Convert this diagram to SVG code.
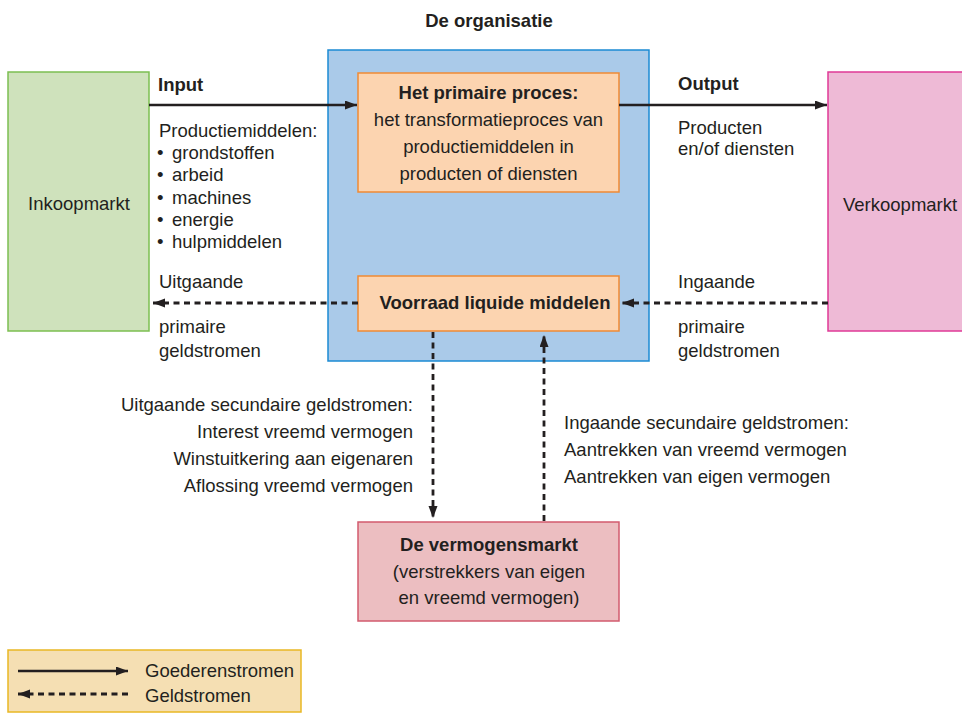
<svg xmlns="http://www.w3.org/2000/svg" width="962" height="714" viewBox="0 0 962 714">
<defs>
<marker id="ah" markerWidth="13" markerHeight="10" refX="12" refY="4.5" orient="auto" markerUnits="userSpaceOnUse"><path d="M0,0 L12,4.5 L0,9 z" fill="#231f20"/></marker>
</defs>
<style>
text{font-family:"Liberation Sans",Arial,sans-serif;font-size:18.5px;fill:#231f20}
.b{font-weight:bold}
.m{text-anchor:middle}
.e{text-anchor:end}
.solid{stroke:#231f20;stroke-width:2.6;fill:none}
.dash{stroke:#231f20;stroke-width:2.8;fill:none;stroke-dasharray:6 4.5}
</style>
<rect width="962" height="714" fill="#fff"/>
<text class="b m" x="489" y="27">De organisatie</text>
<g id="organisatie"><rect x="328" y="50" width="321" height="311" fill="#aacae9" stroke="#1b8ad3" stroke-width="1.5"/></g>
<g id="inkoopmarkt"><rect x="8" y="72" width="141" height="259" fill="#cfe2bc" stroke="#7cbf51" stroke-width="1.5"/><text class="m" x="79" y="210">Inkoopmarkt</text></g>
<g id="verkoopmarkt"><rect x="828" y="72" width="140" height="259" fill="#eebad6" stroke="#df3a97" stroke-width="1.5"/><text x="843" y="211">Verkoopmarkt</text></g>
<g id="primair"><rect x="358" y="73" width="261" height="119" fill="#fcd4b0" stroke="#f08a34" stroke-width="1.5"/>
<text class="b m" x="488.5" y="99">Het primaire proces:</text>
<text class="m" x="488.5" y="126">het transformatieproces van</text>
<text class="m" x="488.5" y="153">productiemiddelen in</text>
<text class="m" x="488.5" y="180">producten of diensten</text></g>
<g id="voorraad"><rect x="358" y="276" width="261" height="55" fill="#fcd4b0" stroke="#f08a34" stroke-width="1.5"/><text class="b m" x="495" y="309">Voorraad liquide middelen</text></g>
<g id="vermogensmarkt"><rect x="358" y="522" width="261" height="99" fill="#ecbec1" stroke="#d25b6e" stroke-width="1.5"/>
<text class="b m" x="489" y="551">De vermogensmarkt</text>
<text class="m" x="489" y="578">(verstrekkers van eigen</text>
<text class="m" x="489" y="604">en vreemd vermogen)</text></g>
<g id="connectors">
<line class="solid" x1="149" y1="105" x2="357" y2="105" marker-end="url(#ah)"/>
<line class="solid" x1="619" y1="105" x2="827" y2="105" marker-end="url(#ah)"/>
<line class="dash" x1="358" y1="303" x2="153" y2="303" marker-end="url(#ah)"/>
<line class="dash" x1="828" y1="303" x2="622" y2="303" marker-end="url(#ah)"/>
<line class="dash" x1="433" y1="332" x2="433" y2="518" marker-end="url(#ah)"/>
<line class="dash" x1="544" y1="521" x2="544" y2="335" marker-end="url(#ah)"/>
</g>
<g id="labels">
<text class="b" x="158" y="91">Input</text>
<text x="159" y="137">Productiemiddelen:</text>
<text x="157" y="159">•</text><text x="172" y="159">grondstoffen</text>
<text x="157" y="181">•</text><text x="172" y="181">arbeid</text>
<text x="157" y="204">•</text><text x="172" y="204">machines</text>
<text x="157" y="226">•</text><text x="172" y="226">energie</text>
<text x="157" y="248">•</text><text x="172" y="248">hulpmiddelen</text>
<text x="159" y="288">Uitgaande</text>
<text x="159" y="333">primaire</text>
<text x="159" y="357">geldstromen</text>
<text class="b" x="678" y="90">Output</text>
<text x="678" y="134">Producten</text>
<text x="678" y="155">en/of diensten</text>
<text x="678" y="288">Ingaande</text>
<text x="678" y="333">primaire</text>
<text x="678" y="357">geldstromen</text>
<text class="e" x="413" y="411">Uitgaande secundaire geldstromen:</text>
<text class="e" x="413" y="438">Interest vreemd vermogen</text>
<text class="e" x="413" y="465">Winstuitkering aan eigenaren</text>
<text class="e" x="413" y="492">Aflossing vreemd vermogen</text>
<text x="564" y="429">Ingaande secundaire geldstromen:</text>
<text x="564" y="456">Aantrekken van vreemd vermogen</text>
<text x="564" y="483">Aantrekken van eigen vermogen</text>
</g>
<g id="legenda">
<rect x="8" y="650" width="293" height="62" fill="#f5dfb3" stroke="#e9b824" stroke-width="1.5"/>
<line class="solid" x1="18" y1="671" x2="128" y2="671" marker-end="url(#ah)"/>
<line class="dash" x1="128" y1="694" x2="18" y2="694" marker-end="url(#ah)"/>
<text x="145" y="677">Goederenstromen</text>
<text x="145" y="702">Geldstromen</text>
</g>
</svg>
